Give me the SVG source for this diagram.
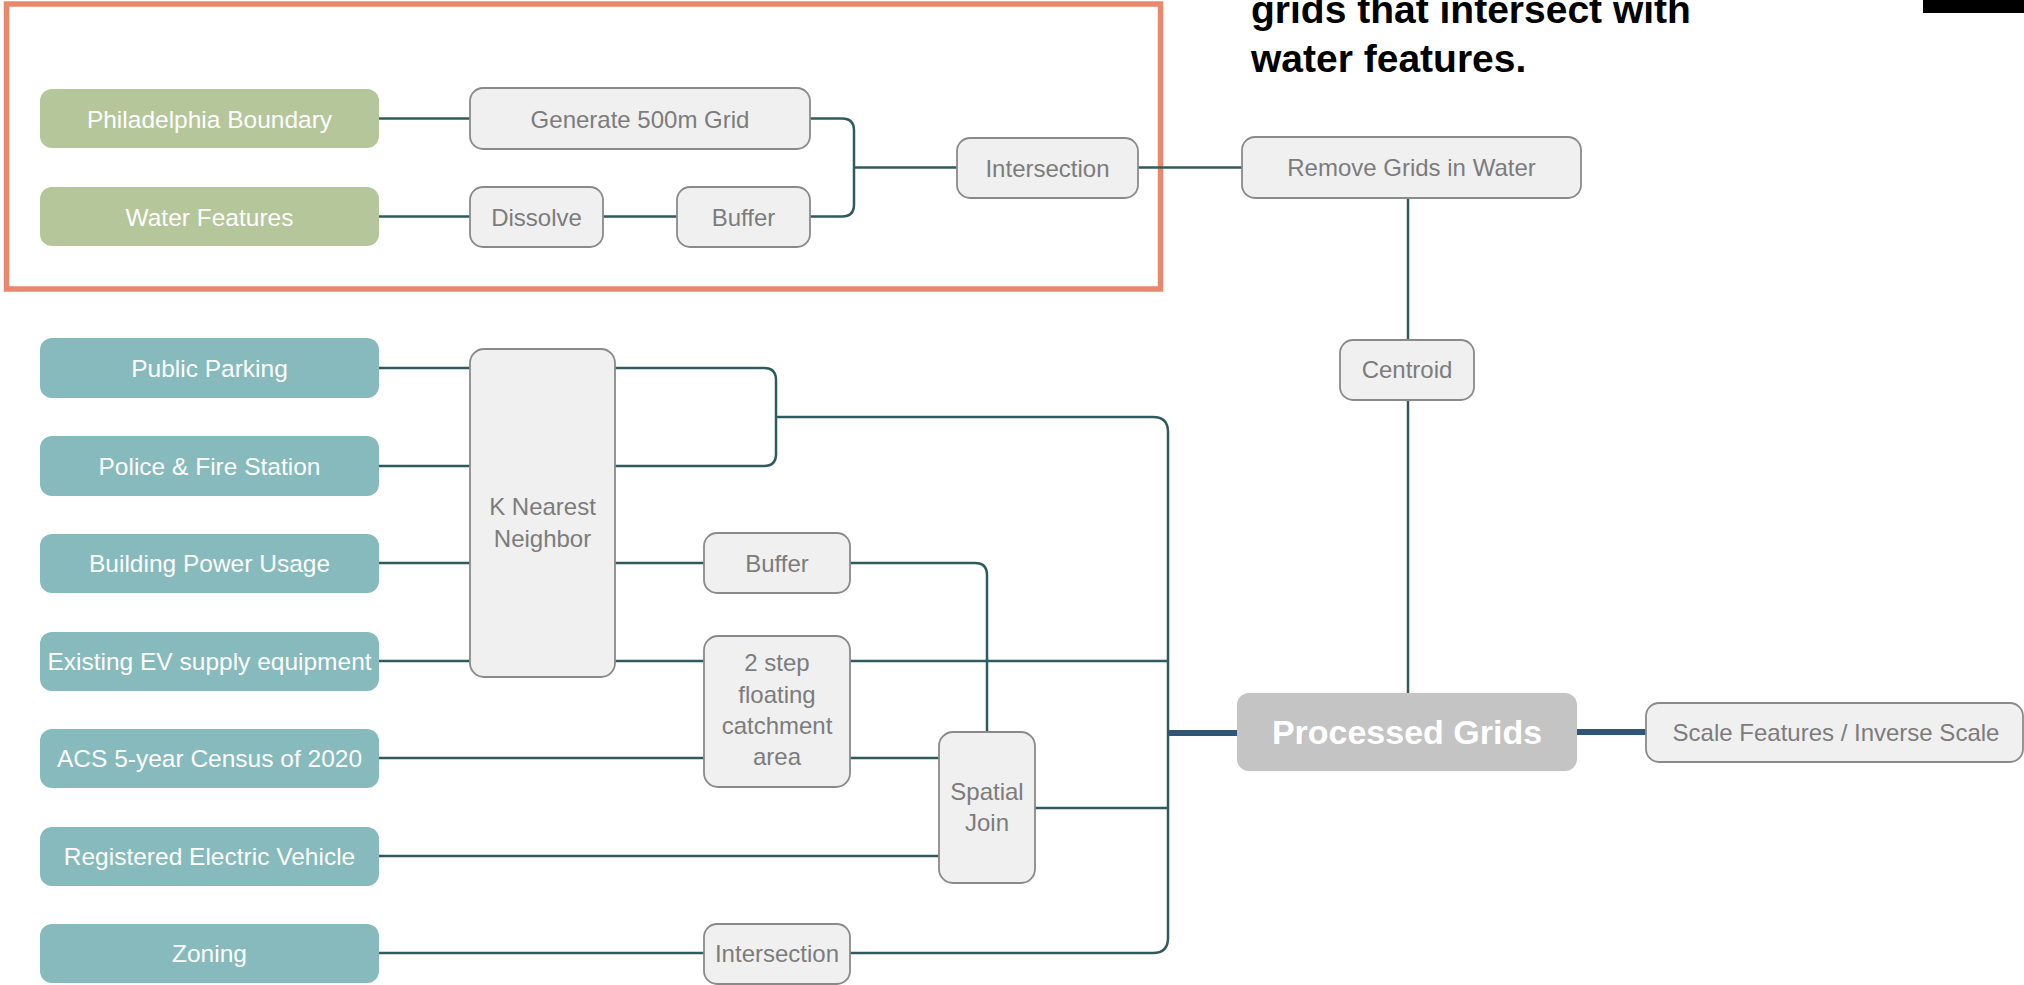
<svg xmlns="http://www.w3.org/2000/svg" width="2024" height="985" viewBox="0 0 2024 985">
<style>
.src rect{fill:#86BABC}
.srcg rect{fill:#B5C69A}
.src text,.srcg text{fill:#FFFFFF;font-family:"Liberation Sans",Arial,sans-serif;font-size:24.5px;text-anchor:middle}
.op rect{fill:#F0F0F0;stroke:#8A8A8A;stroke-width:1.8}
.op text{fill:#7C7C7C;font-family:"Liberation Sans",Arial,sans-serif;font-size:24px;text-anchor:middle}
.conn path{fill:none;stroke:#305B5E;stroke-width:2.5}
.conn path.thick{stroke:#2F5577;stroke-width:6}
.title{font-family:"Liberation Sans",Arial,sans-serif;font-weight:bold;font-size:39px;fill:#000000}
</style>
<rect width="2024" height="985" fill="#FFFFFF"/>
<rect id="frame" x="6.5" y="4" width="1154" height="285" fill="none" stroke="#E8896D" stroke-width="5.5"/>
<rect id="black-bar" x="1923" y="0" width="101" height="13" fill="#000000"/>
<g id="title">
<text class="title" x="1251" y="23">grids that intersect with</text>
<text class="title" x="1251" y="72">water features.</text>
</g>
<g class="conn" id="connectors">
<path d="M379 118.5 H470"/>
<path d="M379 216.5 H470"/>
<path d="M603 216.5 H677"/>
<path d="M810 118.5 H842 Q854 118.5 854 130.5 V204.5 Q854 216.5 842 216.5 H810"/>
<path d="M854 167.5 H957"/>
<path d="M1138 167.5 H1242"/>
<path d="M1408 198 V340"/>
<path d="M1408 400 V693"/>
<path d="M379 368 H470"/>
<path d="M379 466 H470"/>
<path d="M379 563 H470"/>
<path d="M379 661 H470"/>
<path d="M615 368 H764 Q776 368 776 380 V454 Q776 466 764 466 H615"/>
<path d="M776 417 H1153 Q1168 417 1168 432 V938 Q1168 953 1153 953 H850"/>
<path d="M615 563 H704"/>
<path d="M850 563 H975 Q987 563 987 575 V732"/>
<path d="M615 661 H704"/>
<path d="M850 661 H1168"/>
<path d="M379 758 H704"/>
<path d="M850 758 H939"/>
<path d="M379 856 H939"/>
<path d="M1035 808 H1168"/>
<path d="M379 953 H704"/>
<path class="thick" d="M1168 733 H1237"/>
<path class="thick" d="M1577 732 H1646"/>
</g>
<g id="philadelphia-boundary" class="srcg"><rect x="40" y="89" width="339" height="59" rx="12"/><text x="209.5" y="127.5">Philadelphia Boundary</text></g>
<g id="water-features" class="srcg"><rect x="40" y="187" width="339" height="59" rx="12"/><text x="209.5" y="225.5">Water Features</text></g>
<g id="generate-grid" class="op"><rect x="470" y="88" width="340" height="61" rx="13"/><text x="640" y="127.5">Generate 500m Grid</text></g>
<g id="dissolve" class="op"><rect x="470" y="187" width="133" height="60" rx="13"/><text x="536.5" y="225.5">Dissolve</text></g>
<g id="buffer-top" class="op"><rect x="677" y="187" width="133" height="60" rx="13"/><text x="743.5" y="225.5">Buffer</text></g>
<g id="intersection-top" class="op"><rect x="957" y="138" width="181" height="60" rx="13"/><text x="1047.5" y="176.5">Intersection</text></g>
<g id="remove-grids" class="op"><rect x="1242" y="137" width="339" height="61" rx="13"/><text x="1411.5" y="176">Remove Grids in Water</text></g>
<g id="centroid" class="op"><rect x="1340" y="340" width="134" height="60" rx="13"/><text x="1407" y="378">Centroid</text></g>
<g id="public-parking" class="src"><rect x="40" y="338" width="339" height="60" rx="12"/><text x="209.5" y="377">Public Parking</text></g>
<g id="police-fire" class="src"><rect x="40" y="436" width="339" height="60" rx="12"/><text x="209.5" y="475">Police &amp; Fire Station</text></g>
<g id="building-power" class="src"><rect x="40" y="534" width="339" height="59" rx="12"/><text x="209.5" y="572">Building Power Usage</text></g>
<g id="existing-ev" class="src"><rect x="40" y="632" width="339" height="59" rx="12"/><text x="209.5" y="670">Existing EV supply equipment</text></g>
<g id="acs-census" class="src"><rect x="40" y="729" width="339" height="59" rx="12"/><text x="209.5" y="767">ACS 5-year Census of 2020</text></g>
<g id="registered-ev" class="src"><rect x="40" y="827" width="339" height="59" rx="12"/><text x="209.5" y="865">Registered Electric Vehicle</text></g>
<g id="zoning" class="src"><rect x="40" y="924" width="339" height="59" rx="12"/><text x="209.5" y="962">Zoning</text></g>
<g id="knn" class="op"><rect x="470" y="349" width="145" height="328" rx="14"/><text x="542.5" y="515">K Nearest</text><text x="542.5" y="547">Neighbor</text></g>
<g id="buffer-mid" class="op"><rect x="704" y="533" width="146" height="60" rx="13"/><text x="777" y="572">Buffer</text></g>
<g id="two-step" class="op"><rect x="704" y="636" width="146" height="151" rx="14"/><text x="777" y="671">2 step</text><text x="777" y="703">floating</text><text x="777" y="734">catchment</text><text x="777" y="765">area</text></g>
<g id="spatial-join" class="op"><rect x="939" y="732" width="96" height="151" rx="14"/><text x="987" y="800">Spatial</text><text x="987" y="831">Join</text></g>
<g id="intersection-bottom" class="op"><rect x="704" y="924" width="146" height="60" rx="13"/><text x="777" y="962">Intersection</text></g>
<g id="processed-grids"><rect x="1237" y="693" width="340" height="78" rx="12" fill="#C4C4C4"/><text x="1407" y="744" fill="#FFFFFF" font-family="'Liberation Sans',Arial,sans-serif" font-weight="bold" font-size="34" text-anchor="middle">Processed Grids</text></g>
<g id="scale-features" class="op"><rect x="1646" y="703" width="377" height="59" rx="13"/><text x="1836" y="741">Scale Features / Inverse Scale</text></g>
</svg>
